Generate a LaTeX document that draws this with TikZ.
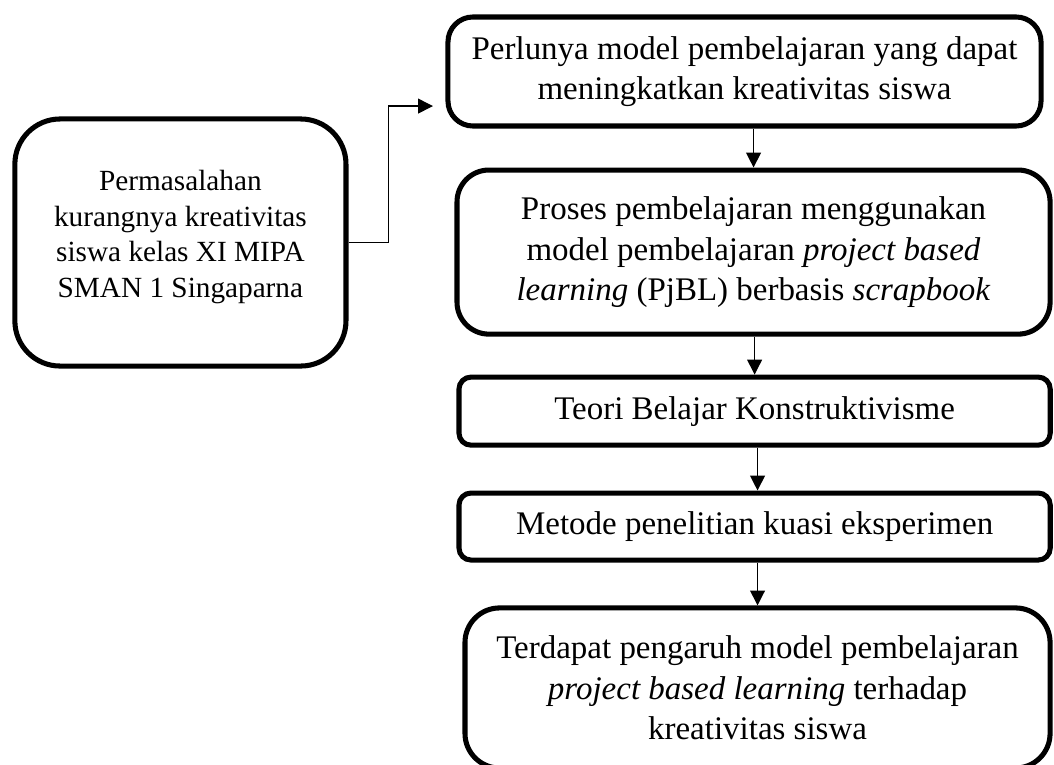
\documentclass[tikz,border=0pt]{standalone}
\usepackage{fontspec}
\setmainfont{Liberation Serif}
\usetikzlibrary{positioning, arrows.meta}
\tikzstyle{box}=[draw, rectangle, line width=1.9pt, align=center, inner sep=0pt, font=\fontsize{12.4}{15.2}\selectfont]
\tikzstyle{flow}=[line width=0.45pt, -{Triangle[length=5.6pt,width=5.6pt]}]

\begin{document}
\begin{tikzpicture}[x=0.376pt, y=-0.376pt]
    \useasboundingbox (0,0) rectangle (1054,765);
    \node[box, rounded corners=9.4pt, minimum width=223pt, minimum height=41pt] (need) at (744.5,71.5)
        {Perlunya model pembelajaran yang dapat\\meningkatkan kreativitas siswa};
    \node[box, rounded corners=12pt, minimum width=223pt, minimum height=61.7pt, below of=need, node distance=67.9pt, xshift=3.4pt] (pjbl)
        {Proses pembelajaran menggunakan\\model pembelajaran \textit{project based}\\\textit{learning} (PjBL) berbasis \textit{scrapbook}};
    \node[box, rounded corners=4.5pt, minimum width=222.3pt, minimum height=25.6pt, below of=pjbl, node distance=59.8pt, xshift=0.4pt] (teori)
        {Teori Belajar Konstruktivisme};
    \node[box, rounded corners=4.5pt, minimum width=222.3pt, minimum height=25.2pt, below of=teori, node distance=43.4pt] (metode)
        {Metode penelitian kuasi eksperimen};
    \node[box, rounded corners=13pt, minimum width=220pt, minimum height=60.2pt, below of=metode, node distance=60.7pt, xshift=1.1pt] (hasil)
        {Terdapat pengaruh model pembelajaran\\\textit{project based learning} terhadap\\kreativitas siswa};
    \node[box, rounded corners=17pt, minimum width=124.5pt, minimum height=92.9pt, font=\fontsize{11}{13.5}\selectfont, left of=pjbl, node distance=215.5pt, yshift=3.6pt] (masalah)
        {Permasalahan\\kurangnya kreativitas\\siswa kelas XI MIPA\\SMAN 1 Singaparna\\[-7pt]\mbox{}};
    \coordinate (inlet) at ([xshift=-4.7pt, yshift=-13pt]need.west);
    \draw[flow] (masalah.east) -- ++(40,0) |- (inlet);
    \draw[flow] (need.south -| pjbl.north) -- (pjbl.north);
    \draw[flow] (pjbl.south -| teori.north) -- (teori.north);
    \draw[flow] (teori.south -| hasil.north) -- (metode.north -| hasil.north);
    \draw[flow] (metode.south -| hasil.north) -- (hasil.north);
\end{tikzpicture}
\end{document}
